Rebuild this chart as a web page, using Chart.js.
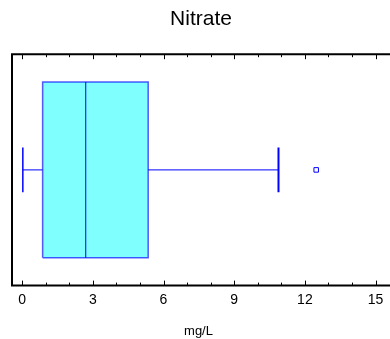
<!DOCTYPE html>
<html>
<head>
<meta charset="utf-8">
<script src="https://cdn.jsdelivr.net/npm/chart.js@4/dist/chart.umd.min.js"></script>
<style>
  html, body { margin: 0; padding: 0; background: #fff; }
  #wrap { width: 390px; height: 339px; }
</style>
</head>
<body>
<div id="wrap"><canvas id="box_chart"></canvas></div>
<script>
// Nitrate box-and-whisker, mg/L
const whiskerLow = 0.03;
const quartile1 = 0.87;
const median = 2.7;
const quartile3 = 5.35;
const whiskerHigh = 10.88;
const outliers = [12.48];
const xTickLabels = [0, 3, 6, 9, 12, 15];

const boxHalf = 0.38;   // half height of box, in y units (axis 0..1)
const capHalf = 0.097;  // half height of whisker caps
const blue = '#0000ff';

function seg(points, width, color) {
    return {
        type: 'scatter',
        data: points,
        showLine: true,
        borderColor: color || blue,
        borderWidth: width,
        pointRadius: 0,
        order: 0,
    };
}

const lo = 0.5 - boxHalf, hi = 0.5 + boxHalf;

// рамка и внутренние засечки
const framePlugin = {
    id: 'frame',
    afterDatasetsDraw(chart) {
        const ctx = chart.ctx;
        const a = chart.chartArea;
        const xs = chart.scales.x;
        ctx.save();
        ctx.strokeStyle = '#000';
        ctx.lineWidth = 2;
        ctx.beginPath();
        ctx.moveTo(chart.width + 2, a.top);
        ctx.lineTo(a.left, a.top);
        ctx.lineTo(a.left, a.bottom);
        ctx.lineTo(chart.width + 2, a.bottom);
        ctx.stroke();
        ctx.lineWidth = 1;
        ctx.beginPath();
        for (let v = Math.ceil(xs.min); v <= xs.max; v++) {
            const px = Math.round(xs.getPixelForValue(v)) + 0.5;
            const len = xTickLabels.includes(v) ? 5 : 3;
            ctx.moveTo(px, a.top);
            ctx.lineTo(px, a.top + len);
            ctx.moveTo(px, a.bottom);
            ctx.lineTo(px, a.bottom - len);
        }
        ctx.stroke();
        ctx.restore();
    }
};

new Chart(document.getElementById('box_chart'), {
    data: {
        datasets: [
            seg([{x: median, y: lo}, {x: median, y: hi}], 1),
            seg([{x: whiskerLow, y: 0.5}, {x: quartile1, y: 0.5}], 1),
            seg([{x: quartile3, y: 0.5}, {x: whiskerHigh, y: 0.5}], 1),
            seg([{x: whiskerLow, y: 0.5 - capHalf}, {x: whiskerLow, y: 0.5 + capHalf}], 1.5),
            seg([{x: whiskerHigh, y: 0.5 - capHalf}, {x: whiskerHigh, y: 0.5 + capHalf}], 2),
            {
                type: 'scatter',
                data: outliers.map(v => ({x: v, y: 0.5})),
                pointStyle: 'rect',
                pointRadius: 3.2,
                borderColor: blue,
                borderWidth: 1,
                backgroundColor: '#fff',
                order: 0,
            },
            // контур коробки
            Object.assign(seg([
                {x: quartile1, y: lo}, {x: quartile3, y: lo},
                {x: quartile3, y: hi}, {x: quartile1, y: hi},
                {x: quartile1, y: lo}], 1.5, 'rgba(0, 0, 255, 0.65)'), {order: 5}),
            // заливка коробки
            {
                type: 'scatter',
                data: [{x: quartile1, y: hi}, {x: quartile3, y: hi}],
                showLine: true,
                borderWidth: 0,
                pointRadius: 0,
                backgroundColor: '#80ffff',
                fill: {value: lo},
                order: 10,
            },
        ]
    },
    options: {
        responsive: true,
        maintainAspectRatio: false,
        animation: false,
        layout: {
            padding: {left: 12, right: 0, top: 0, bottom: 0}
        },
        scales: {
            x: {
                type: 'linear',
                min: -0.43,
                max: 15.4,
                grid: {display: false, drawTicks: false},
                border: {display: false},
                ticks: {
                    stepSize: 1,
                    includeBounds: false,
                    autoSkip: false,
                    maxRotation: 0,
                    padding: 6,
                    color: '#000',
                    font: {family: 'Liberation Sans', size: 14},
                    callback: v => xTickLabels.includes(v) ? String(v) : '',
                },
                title: {
                    display: true,
                    text: 'mg/L',
                    color: '#000',
                    font: {family: 'Liberation Sans', size: 13},
                    padding: {top: 9, bottom: 0},
                }
            },
            y: {
                type: 'linear',
                min: 0,
                max: 1,
                display: false,
            }
        },
        plugins: {
            legend: {display: false},
            tooltip: {enabled: false},
            title: {
                display: true,
                text: 'Nitrate',
                color: '#000',
                font: {family: 'Liberation Sans', size: 21, weight: 'normal'},
                padding: {top: 7, bottom: 22},
            }
        }
    },
    plugins: [framePlugin]
});
</script>
</body>
</html>
